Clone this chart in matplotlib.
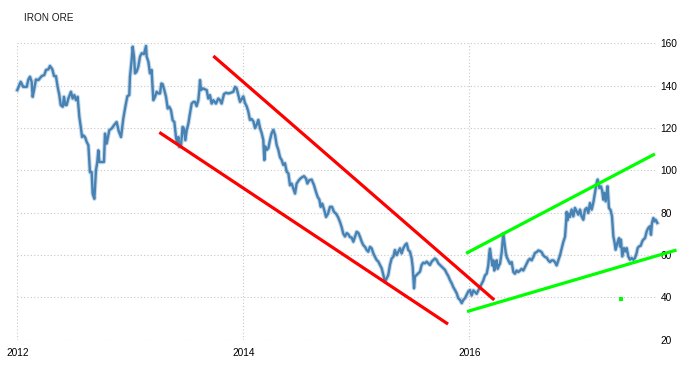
import matplotlib
matplotlib.use("Agg")
import matplotlib.pyplot as plt

plt.rcParams['font.family'] = ['Liberation Sans', 'DejaVu Sans']

years = [
2012.000,2012.030,2012.053,2012.083,2012.098,2012.112,2012.127,2012.136,2012.148,2012.165,2012.186,2012.216,2012.239,2012.254,2012.275,2012.289,2012.310,2012.325,2012.342,2012.357,2012.372,2012.384,2012.402,2012.413,2012.425,2012.437,2012.452,2012.475,2012.490,2012.505,2012.519,2012.534,2012.549,2012.564,2012.573,2012.584,2012.599,2012.614,2012.629,2012.643,2012.658,2012.667,2012.682,2012.696,2012.708,2012.717,2012.726,2012.747,2012.767,2012.776,2012.791,2012.814,2012.835,2012.856,2012.879,2012.897,2012.918,2012.938,2012.956,2012.974,2012.991,
2012.997,2013.012,2013.021,2013.033,2013.042,2013.056,2013.071,2013.086,2013.101,2013.121,2013.139,2013.145,2013.160,2013.174,2013.189,2013.195,2013.204,2013.219,2013.233,2013.248,2013.263,2013.275,2013.286,2013.301,2013.316,2013.331,2013.345,2013.360,2013.375,2013.390,2013.404,2013.416,2013.425,2013.434,2013.449,2013.463,2013.475,2013.487,2013.499,2013.514,2013.528,2013.543,2013.558,2013.573,2013.587,2013.602,2013.611,2013.617,2013.626,2013.640,2013.661,2013.676,2013.690,2013.705,2013.720,2013.735,2013.758,2013.779,2013.794,2013.808,2013.829,2013.847,2013.868,2013.888,2013.912,2013.927,2013.941,2013.956,2013.971,
2013.986,2014.000,2014.015,2014.030,2014.044,2014.059,2014.074,2014.089,2014.104,2014.118,2014.133,2014.148,2014.163,2014.177,2014.186,2014.195,2014.207,2014.222,2014.236,2014.251,2014.266,2014.281,2014.295,2014.310,2014.325,2014.340,2014.354,2014.369,2014.384,2014.399,2014.413,2014.428,2014.443,2014.458,2014.472,2014.496,2014.517,2014.537,2014.555,2014.567,2014.584,2014.605,2014.626,2014.643,2014.658,2014.673,2014.685,2014.699,2014.717,2014.732,2014.750,2014.767,2014.785,2014.803,2014.820,2014.838,2014.856,2014.870,2014.885,2014.900,2014.915,2014.930,2014.944,
2014.959,2014.974,2014.988,2015.003,2015.018,2015.033,2015.048,2015.062,2015.077,2015.092,2015.106,2015.121,2015.136,2015.151,2015.165,2015.180,2015.195,2015.210,2015.225,2015.239,2015.254,2015.269,2015.283,2015.298,2015.313,2015.328,2015.342,2015.357,2015.372,2015.387,2015.401,2015.416,2015.431,2015.446,2015.460,2015.475,2015.490,2015.499,2015.511,2015.519,2015.534,2015.549,2015.564,2015.578,2015.593,2015.608,2015.623,2015.637,2015.652,2015.667,2015.682,2015.696,2015.711,2015.726,2015.741,2015.755,2015.770,2015.785,2015.800,2015.814,2015.829,2015.844,2015.859,2015.873,2015.888,2015.903,2015.918,2015.933,2015.947,2015.962,2015.977,2015.991,2016.006,
2016.021,2016.036,2016.050,2016.065,2016.080,2016.095,2016.109,2016.124,2016.139,2016.154,2016.168,2016.177,2016.183,2016.192,2016.204,2016.213,2016.221,2016.233,2016.242,2016.251,2016.263,2016.272,2016.287,2016.295,2016.301,2016.310,2016.322,2016.331,2016.345,2016.360,2016.375,2016.390,2016.404,2016.419,2016.434,2016.449,2016.463,2016.478,2016.493,2016.508,2016.522,2016.537,2016.552,2016.567,2016.581,2016.596,2016.611,2016.626,2016.640,2016.655,2016.670,2016.685,2016.699,2016.714,2016.729,2016.744,2016.758,2016.773,2016.788,2016.803,2016.817,2016.832,2016.847,2016.856,2016.862,2016.870,2016.879,2016.891,
2016.906,2016.921,2016.935,2016.950,2016.965,2016.980,2016.994,2017.009,2017.024,2017.039,2017.053,2017.068,2017.083,2017.097,2017.112,2017.127,2017.136,2017.151,2017.165,2017.177,2017.186,2017.195,2017.207,2017.216,2017.224,2017.236,2017.251,2017.263,2017.275,2017.284,2017.295,2017.310,2017.325,2017.334,2017.342,2017.354,2017.369,2017.381,2017.393,2017.407,2017.422,2017.437,2017.452,2017.466,2017.481,2017.490,2017.502,2017.517,2017.531,2017.540,2017.555,2017.570,2017.584,2017.599,2017.608,2017.617,2017.629,2017.637,2017.649,2017.664,
]

prices = [
137.9,141.8,139.4,139.4,142.9,144.2,141.8,134.7,137.9,142.9,142.6,144.5,145.0,147.4,147.7,149.3,147.7,144.5,144.5,139.4,135.5,130.8,130.0,134.7,130.8,130.8,133.9,137.1,133.9,135.5,133.1,134.7,125.2,119.7,115.7,116.5,115.7,113.4,111.8,99.1,99.1,88.9,86.5,99.9,103.9,109.4,103.9,103.9,103.9,117.3,112.6,118.9,119.7,121.3,122.8,118.6,115.7,124.4,130.0,135.0,135.5,
144.2,152.1,158.4,153.7,145.8,146.6,149.0,153.7,155.3,154.9,158.7,153.7,151.3,145.8,147.4,141.0,133.1,134.7,137.1,136.3,136.3,141.0,140.7,137.9,134.7,129.2,130.0,128.4,123.6,122.8,115.7,112.6,115.7,111.0,111.8,120.5,119.7,114.2,118.9,122.1,126.8,131.5,132.3,132.3,130.3,133.1,137.9,142.6,137.9,138.7,138.2,137.9,133.9,135.5,131.5,133.1,131.5,133.9,133.1,131.5,136.0,136.6,136.3,136.6,137.1,139.4,138.7,135.5,132.3,
133.7,134.9,131.8,130.2,127.8,123.8,124.2,123.1,119.9,121.5,123.8,119.9,117.5,114.3,104.8,111.2,109.6,110.4,114.3,117.5,119.1,116.7,112.0,109.6,106.1,104.8,102.5,103.3,99.3,98.5,92.9,93.7,91.4,89.0,93.7,95.6,96.6,97.2,96.1,93.7,95.3,95.6,92.9,89.8,87.4,86.1,82.7,84.2,81.1,77.9,79.5,82.7,82.7,80.3,79.5,77.9,75.5,73.2,70.0,68.7,70.3,69.7,68.4,
68.2,66.2,68.5,70.9,70.4,68.5,66.2,64.6,63.8,62.3,61.5,63.8,63.1,60.7,59.1,57.6,56.8,55.2,53.6,50.5,47.4,48.9,50.5,55.2,58.3,59.1,62.3,59.9,61.5,63.1,60.7,63.1,64.6,65.4,62.3,61.5,58.3,54.4,44.2,49.7,50.5,51.3,52.1,55.2,56.3,56.0,56.8,56.0,55.2,56.8,57.6,58.3,57.6,56.0,55.2,54.4,53.6,52.9,51.3,50.0,48.1,46.6,44.7,43.4,41.9,39.5,38.7,37.2,38.7,39.5,41.1,42.7,43.4,
40.8,43.2,42.4,41.6,43.2,44.7,46.3,47.9,50.3,51.1,55.0,60.6,62.9,59.0,55.0,57.4,52.6,55.8,57.4,53.4,55.0,55.8,61.3,66.1,70.0,66.1,61.3,59.0,57.4,55.8,56.6,51.9,51.1,52.6,51.9,52.6,53.4,52.6,54.2,55.8,57.4,58.2,57.4,59.0,60.9,61.3,62.1,61.8,61.3,59.8,59.0,58.7,57.4,56.6,57.4,57.4,56.6,55.0,57.4,59.8,62.9,66.1,68.5,74.8,80.3,76.4,79.5,77.9,
81.4,78.2,82.2,80.6,79.0,81.4,78.2,76.6,81.4,82.2,79.8,84.5,81.4,84.5,89.3,94.0,95.6,91.6,92.4,90.1,86.1,89.3,85.3,89.3,92.4,82.2,81.1,78.2,68.7,66.4,62.4,65.6,67.9,64.0,67.2,59.3,63.2,61.6,63.2,59.3,57.7,58.5,57.7,58.5,60.9,63.2,64.0,64.3,66.4,67.2,67.9,71.1,72.7,73.5,69.5,75.1,77.4,75.8,76.6,75.1,
]

# trend lines drawn on the chart (data coordinates)
red_upper_x = [2013.735, 2016.221]
red_upper_y = [154.0, 38.7]
red_lower_x = [2013.257, 2015.812]
red_lower_y = [117.9, 27.3]
green_upper_x = [2015.971, 2017.643]
green_upper_y = [60.7, 107.7]
green_lower_x = [2015.980, 2017.834]
green_lower_y = [33.2, 62.3]
green_dot_x = [2017.342]
green_dot_y = [39.0]

x_ticks = [2012, 2014, 2016]
x_labels = ['2012', '2014', '2016']
y_ticks = [20, 40, 60, 80, 100, 120, 140, 160]

W, H = 696, 372
fig = plt.figure(figsize=(W / 100, H / 100), dpi=100)
ax = fig.add_axes([17.3 / W, 1 - 339.5 / H, (655.5 - 17.3) / W, (339.5 - 43.3) / H])

ax.plot(years, prices, color='#4682b4', lw=3.2, alpha=0.3, solid_joinstyle='round', clip_on=False, zorder=3)
ax.plot(years, prices, color='#4682b4', lw=1.7, solid_joinstyle='round', clip_on=False, zorder=4)

for xs, ys, c in [(red_upper_x, red_upper_y, '#ff0000'), (red_lower_x, red_lower_y, '#ff0000'),
                  (green_upper_x, green_upper_y, '#00ff00'), (green_lower_x, green_lower_y, '#00ff00')]:
    ax.plot(xs, ys, color=c, lw=2.3, solid_capstyle='butt', clip_on=False, zorder=5)
ax.plot(green_dot_x, green_dot_y, 's', color='#00ff00', ms=3, mew=0, clip_on=False, zorder=5)

ax.set_xlim(2012.0, 2017.648)
ax.set_ylim(20, 160)
ax.set_xticks(x_ticks)
ax.set_xticklabels(x_labels)
ax.set_yticks(y_ticks)
ax.yaxis.tick_right()
ax.grid(True, color='#c8c8c8', linestyle=(0, (1, 2)), linewidth=0.8)
ax.set_axisbelow(True)
for s in ax.spines.values():
    s.set_visible(False)
ax.tick_params(axis='both', length=0, labelsize=7.3, colors='#000000')
ax.tick_params(axis='y', pad=3.5)
ax.tick_params(axis='x', pad=6)
for lbl in ax.get_yticklabels():
    lbl.set_horizontalalignment('left')

fig.text(24 / W, 1 - 18 / H, 'IRON ORE', fontsize=7.2, color='#1a1a1a', va='center', ha='left')

fig.savefig('out.png', dpi=100)
